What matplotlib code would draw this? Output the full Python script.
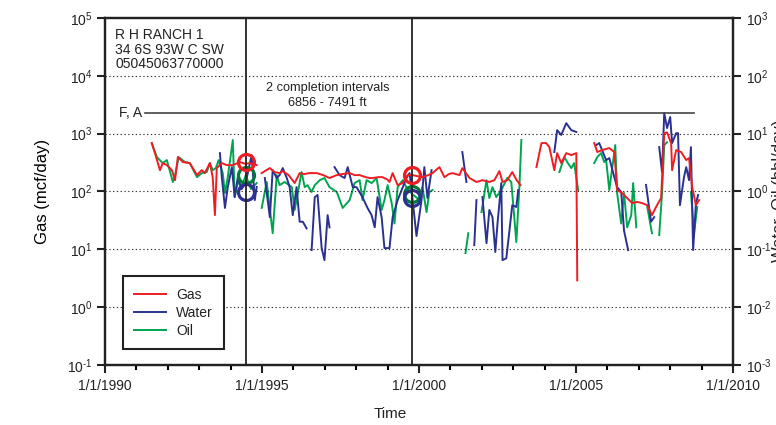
import matplotlib
matplotlib.use("Agg")
import matplotlib.pyplot as plt
from matplotlib.lines import Line2D
from matplotlib import ticker
import numpy as np

plt.rcParams['font.family'] = ['Liberation Sans', 'DejaVu Sans']
plt.rcParams['mathtext.fontset'] = 'custom'
plt.rcParams['mathtext.rm'] = 'Liberation Sans'
plt.rcParams['mathtext.it'] = 'Liberation Sans:italic'
plt.rcParams['axes.unicode_minus'] = False
plt.rcParams['text.color'] = '#222222'

nan = np.nan

# Gas rate, mcf/day (left axis); nan = gap in production record
gas_year = [1991.49, 1991.59, 1991.75, 1991.84, 1991.97, 1992.13, 1992.23, 1992.32, 1992.48, 1992.70,
            1992.93, 1993.08, 1993.18, 1993.34, 1993.43, 1993.50, 1993.56, 1993.72, 1993.88, 1994.07,
            1994.29, 1994.48, 1994.61, 1994.83, nan,
            1994.99, 1995.09, 1995.25, 1995.40, 1995.56, 1995.66, 1995.85, 1996.04, 1996.20, 1996.35,
            1996.50, 1996.74, 1996.95, 1997.15, 1997.38, 1997.55, 1997.79, 1997.95, 1998.11, 1998.30,
            1998.43, 1998.52, 1998.70, 1998.84, 1999.00, 1999.06, 1999.16, 1999.32, 1999.48, 1999.63,
            1999.79, 2000.11, 2000.30, 2000.43, 2000.65, 2000.81, 2000.95, 2001.07, 2001.29, 2001.38,
            2001.61, 2001.83, 2002.02, 2002.24, 2002.40, 2002.56, 2002.66, 2002.81, 2002.97, 2003.10,
            2003.23, nan,
            2003.74, 2003.90, 2004.05, 2004.15, 2004.31, 2004.40, 2004.53, 2004.69, 2004.85, 2005.01,
            2005.04, nan,
            2005.58, 2005.68, 2005.83, 2006.06, 2006.22, 2006.31, 2006.47, 2006.63, 2006.79, 2006.95,
            2007.11, 2007.27, 2007.42, 2007.55, 2007.71, 2007.81, 2007.90, 2008.03, 2008.06, 2008.19,
            2008.35, 2008.51, 2008.60, 2008.70, 2008.82, 2008.92]
gas_rate = [687, 461, 234, 310, 286, 234, 157, 394, 323, 310,
            192, 234, 208, 310, 177, 39, 254, 310, 286, 286,
            323, 300, 310, 286, nan,
            208, 225, 254, 217, 208, 225, 192, 140, 208, 200,
            208, 208, 192, 171, 192, 200, 208, 192, 192, 177,
            171, 171, 177, 177, 160, 146, 208, 129, 140, 192,
            192, 177, 192, 208, 264, 177, 200, 208, 192, 254,
            171, 146, 157, 146, 157, 225, 146, 157, 217, 160,
            129, nan,
            264, 687, 687, 586, 234, 461, 310, 461, 426, 461,
            2.9, nan,
            687, 481, 520, 564, 481, 106, 94, 77, 63, 66,
            63, 58, 39, 54, 77, 1023, 1050, 687, 234, 520,
            481, 349, 378, 119, 58, 71]

# Water rate, bbl/day (right axis)
water_year = [1993.66, 1993.72, 1993.82, 1993.91, 1994.04, 1994.13, 1994.23, 1994.35, 1994.48, 1994.67,
              1994.77, 1994.83, nan,
              1995.09, 1995.25, 1995.34, 1995.47, 1995.56, 1995.66, 1995.79, 1995.88, 1995.98, 1996.10,
              1996.20, 1996.30, 1996.42, nan,
              1996.58, 1996.68, 1996.77, 1996.90, 1996.99, 1997.09, 1997.15, nan,
              1997.31, 1997.47, 1997.63, 1997.73, 1997.89, 1998.01, 1998.20, 1998.36, 1998.49, 1998.59,
              1998.68, 1998.81, 1998.90, 1999.06, 1999.16, 1999.32, 1999.60, 1999.70, 1999.79, 1999.92,
              2000.08, 2000.17, 2000.27, 2000.40, nan,
              2001.38, 2001.51, nan,
              2001.76, 2001.83, nan,
              2002.02, 2002.15, 2002.24, 2002.34, 2002.43, 2002.50, 2002.62, 2002.66, 2002.78, 2002.88,
              2002.97, 2003.10, 2003.16, nan,
              2004.31, 2004.40, 2004.53, 2004.69, 2004.85, 2005.01, nan,
              2005.64, 2005.74, 2005.83, 2005.96, 2006.06, 2006.22, 2006.31, 2006.44, 2006.53, 2006.66, nan,
              2007.23, 2007.39, 2007.49, nan,
              2007.65, 2007.74, 2007.81, 2007.90, 2008.00, 2008.06, 2008.19, 2008.25, 2008.31, 2008.44,
              2008.51, 2008.60, 2008.66, 2008.73, 2008.82, 2008.89]
water_rate = [4.61, 1.77, 0.52, 1.19, 2.64, 0.80, 1.77, 1.1, 1.4, 4.26,
              0.71, 1.2, nan,
              1.71, 0.36, 2.34, 1.71, 1.92, 2.54, 1.71, 1.19, 0.39, 1.19,
              0.30, 0.30, 0.23, nan,
              0.097, 0.80, 0.87, 0.105, 0.065, 0.39, 0.24, nan,
              2.64, 1.92, 1.71, 2.64, 1.19, 1.19, 0.80, 0.52, 0.39, 0.24,
              0.80, 0.36, 0.105, 0.105, 0.36, 0.71, 1.71, 2.08, 0.77, 0.17,
              0.71, 2.64, 0.77, 2.34, nan,
              4.81, 1.46, nan,
              0.118, 0.71, nan,
              0.80, 0.128, 0.48, 0.36, 0.09, 0.28, 1.4, 0.065, 0.070, 0.21,
              0.58, 0.54, 1.06, nan,
              4.81, 11.5, 9.5, 15.2, 11.5, 10.7, nan,
              6.35, 6.87, 5.2, 3.49, 3.78, 1.77, 1.19, 0.98, 0.21, 0.097, nan,
              1.3, 0.30, 0.36, nan,
              5.86, 2.17, 22.7, 12.5, 19.4, 6.87, 10.2, 10.2, 0.58, 1.77,
              2.64, 1.57, 5.86, 0.097, 0.63, 0.87]

# Oil rate, bbl/day (right axis)
oil_year = [1991.49, 1991.65, 1991.84, 1991.97, 1992.16, 1992.23, 1992.35, 1992.54, 1992.70, 1992.93,
            1993.08, 1993.24, 1993.34, 1993.43, 1993.53, 1993.62, 1993.75, 1993.82, 1993.91, 1994.07,
            1994.13, 1994.23, 1994.35, 1994.48, 1994.65, 1994.83, nan,
            1994.99, 1995.15, 1995.34, 1995.47, 1995.56, 1995.72, 1995.95, 1996.04, 1996.14, 1996.26,
            1996.36, 1996.45, 1996.58, 1996.68, 1996.84, 1996.99, 1997.15, 1997.38, 1997.57, 1997.79,
            1997.95, 1998.11, 1998.20, 1998.33, 1998.49, 1998.65, 1998.81, 1998.90, 1999.00, 1999.13,
            1999.22, 1999.32, 1999.48, 1999.63, 1999.79, 2000.02, 2000.11, 2000.24, 2000.33, 2000.43, nan,
            2001.48, 2001.57, nan,
            2001.99, 2002.15, 2002.24, 2002.34, 2002.46, 2002.62, 2002.81, 2002.94, 2003.10, 2003.20,
            2003.26, nan,
            2004.47, 2004.63, 2004.72, 2004.85, 2004.94, 2005.07, nan,
            2005.58, 2005.68, 2005.80, 2005.90, 2005.96, 2006.06, 2006.25, 2006.31, 2006.44, 2006.53,
            2006.63, 2006.76, 2006.82, 2006.92, nan,
            2007.27, 2007.42, nan,
            2007.65, 2007.74, 2007.81, 2007.90, nan,
            2008.66, 2008.76, 2008.86]
oil_rate = [6.87, 3.94, 3.10, 3.49, 1.46, 1.92, 3.94, 3.23, 3.10, 1.77,
            2.08, 2.17, 3.10, 2.34, 2.54, 3.49, 2.08, 0.94, 1.77, 7.75,
            0.80, 1.46, 1.2, 1.9, 1.1, 1.40, nan,
            0.52, 1.46, 0.19, 1.92, 1.29, 1.46, 1.19, 0.48, 0.94, 2.17,
            1.19, 1.29, 0.98, 1.29, 1.57, 1.71, 1.19, 0.98, 0.52, 0.71,
            1.40, 1.57, 0.71, 1.57, 1.40, 1.71, 0.48, 0.71, 1.29, 0.63,
            0.28, 1.19, 1.57, 1.1, 0.9, 0.71, 1.19, 0.44, 0.98, 1.06, nan,
            0.086, 0.19, nan,
            0.44, 1.57, 0.77, 1.19, 0.80, 1.06, 1.71, 1.46, 0.133, 1.29,
            7.75, nan,
            2.17, 3.94, 3.23, 2.54, 3.10, 1.06, nan,
            3.10, 3.94, 4.61, 3.23, 3.49, 1.06, 6.35, 0.94, 0.28, 0.94,
            0.24, 0.39, 1.40, 0.24, nan,
            0.54, 0.19, nan,
            0.176, 0.94, 6.35, 7.1, nan,
            0.98, 0.19, 0.54]

# completion / workover dates and the rates marked at them
event_year = [1994.48, 1999.79]
event_gas = [323, 192]
event_water = [0.98, 0.77]
event_oil = [1.92, 0.90]

fa_start, fa_end, fa_level = 1991.27, 2008.76, 2270
year_ticks = [1990, 1995, 2000, 2005, 2010]
year_labels = ['1/1/1990', '1/1/1995', '1/1/2000', '1/1/2005', '1/1/2010']

c_gas = '#ee1d23'
c_water = '#2b3190'
c_oil = '#00a550'


def pow10(v, pos):
    # hyphen-style minus, as in the original chart
    e = int(round(np.log10(v)))
    return r'$10^{\text{%d}}$' % e


fig = plt.figure(figsize=(7.76, 4.25), dpi=100)
ax = fig.add_axes([105/776, 60/425, 628/776, 347/425])
ax2 = ax.twinx()
ax.set_zorder(ax2.get_zorder() + 1)
ax.patch.set_visible(False)

ax.set_yscale('log')
ax2.set_yscale('log')
ax.set_ylim(1e-1, 1e5)
ax2.set_ylim(1e-3, 1e3)
ax.set_xlim(1990, 2010)

for y in [1e1, 1e2, 1e3, 1e4, 1e0]:
    ax.axhline(y, color='#333333', ls=(0, (1.2, 2.2)), lw=0.8, zorder=0)

ax2.plot(oil_year, oil_rate, color=c_oil, lw=1.4)
ax2.plot(water_year, water_rate, color=c_water, lw=1.4)
ax.plot(gas_year, gas_rate, color=c_gas, lw=1.4)

for yr in event_year:
    ax.axvline(yr, color='#222222', lw=1.3, zorder=3)

ax.plot(event_year, event_gas, ls='none', marker='o', ms=11.5, mfc='none', mec=c_gas, mew=2.3, zorder=4)
ax2.plot(event_year, event_oil, ls='none', marker='o', ms=11.5, mfc='none', mec='#007a3a', mew=2.3)
ax2.plot(event_year, event_water, ls='none', marker='o', ms=11.5, mfc='none', mec=c_water, mew=2.3)

ax.plot([fa_start, fa_end], [fa_level, fa_level], color='#444444', lw=1.2)
ax.text(fa_start - 0.08, fa_level, 'F, A', ha='right', va='center', fontsize=10)
ax.text(1997.09, 4600, '2 completion intervals\n6856 - 7491 ft', ha='center', va='center',
        fontsize=9.2, linespacing=1.3)
ax.text(0.016, 0.972, 'R H RANCH 1\n34 6S 93W C SW\n05045063770000', transform=ax.transAxes,
        ha='left', va='top', fontsize=10, linespacing=1.08)

ax.set_xticks(year_ticks)
ax.set_xticklabels(year_labels)
ax.xaxis.set_minor_locator(ticker.MultipleLocator(1))
for a in (ax, ax2):
    a.yaxis.set_major_locator(ticker.LogLocator(base=10, numticks=10))
    a.yaxis.set_minor_locator(ticker.NullLocator())
    a.yaxis.set_major_formatter(ticker.FuncFormatter(pow10))

ax.tick_params(axis='both', which='major', direction='out', length=6, width=1.5, labelsize=10,
               colors='#222222', pad=3)
ax.tick_params(axis='x', which='minor', direction='out', length=3.5, width=1.5)
ax.tick_params(axis='x', which='major', pad=4)
ax2.tick_params(axis='y', which='major', direction='out', length=6, width=1.5, labelsize=10,
                colors='#222222', pad=3)
for a in (ax, ax2):
    for s in a.spines.values():
        s.set_linewidth(1.6)
        s.set_color('#222222')

ax.set_ylabel('Gas (mcf/day)', fontsize=12, labelpad=12)
fig.text(390/776, 1 - 414/425, 'Time', ha='center', va='center', fontsize=11)
fig.text(772/776, 0.55, 'Water, Oil (bbl/day)', rotation=90, ha='left', va='center', fontsize=12)

handles = [Line2D([], [], color=c_gas, lw=1.4), Line2D([], [], color=c_water, lw=1.4),
           Line2D([], [], color=c_oil, lw=1.4)]
leg = ax.legend(handles, ['Gas', 'Water', 'Oil'], loc='lower left', bbox_to_anchor=(0.029, 0.046),
                fontsize=10, fancybox=False, framealpha=1, edgecolor='#222222', handlelength=2.3,
                borderpad=0.8, labelspacing=0.3, borderaxespad=0, handletextpad=0.7)
leg.get_frame().set_linewidth(1.5)

fig.savefig('out.png', dpi=100)
